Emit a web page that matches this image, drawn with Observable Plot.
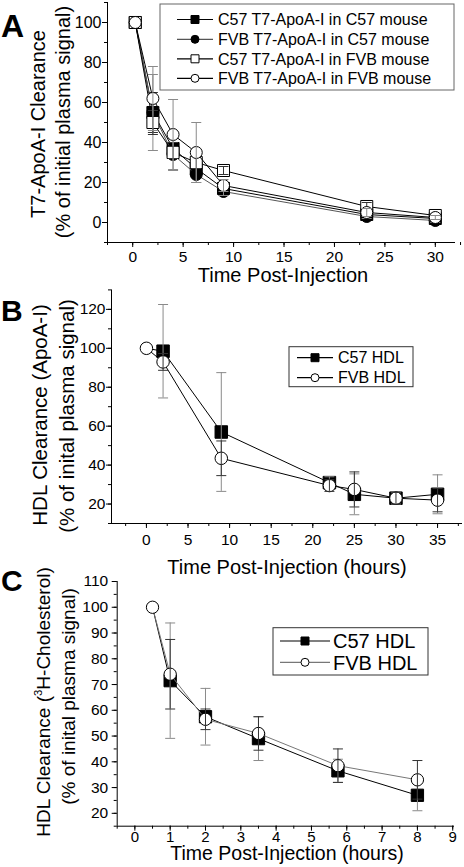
<!DOCTYPE html>
<html><head><meta charset="utf-8">
<script src="https://cdn.jsdelivr.net/npm/d3@7"></script>
<script src="https://cdn.jsdelivr.net/npm/@observablehq/plot@0.6"></script>
<style>
body{margin:0;background:#fff;}
#wrap{position:relative;width:464px;height:867px;overflow:hidden;background:#fff;}
#wrap svg{position:absolute;left:0;overflow:visible;background:none;}
</style></head><body><div id="wrap"></div>
<script>
// ---------- Panel A data ----------
const timeA = [0.25, 2, 4, 6.3, 9, 23.2, 30];
const namesA = ["C57 T7-ApoA-I in C57 mouse", "FVB T7-ApoA-I in C57 mouse", "C57 T7-ApoA-I in FVB mouse", "FVB T7-ApoA-I in FVB mouse"];
const c57InC57 = [100, 55, 37, 27, 17, 4, 2];
const c57InC57Err = [0, 10, 3, 3, 2, 1, 1];
const fvbInC57 = [100, 55, 34, 24, 15.5, 3, 1];
const fvbInC57Err = [0, 19, 8, 4, 2, 1, 1];
const c57InFvb = [100, 50, 35, 30, 26, 8, 3.5];
const c57InFvbErr = [0, 6, 3, 3, 2, 2, 1];
const fvbInFvb = [100, 62, 44, 35, 18.5, 5, 2.5];
const fvbInFvbErr = [0, 16, 17.5, 15, 3, 2, 1];
const xTicksA = [0, 5, 10, 15, 20, 25, 30];
const yTicksA = [0, 20, 40, 60, 80, 100];

// ---------- Panel B data ----------
const timeB = [0, 2, 9, 22, 25, 30, 35];
const namesB = ["C57 HDL", "FVB HDL"];
const c57HdlB = [100, 98.5, 57, 31, 25, 23, 25];
const c57HdlBErr = [0, 24, 30.5, 3, 10.5, 3, 10];
const fvbHdlB = [100, 93, 43.5, 29.5, 27.5, 23, 22];
const fvbHdlBErr = [0, 4.3, 8.9, 3, 9, 3, 6];
const xTicksB = [0, 5, 10, 15, 20, 25, 30, 35];
const yTicksB = [20, 40, 60, 80, 100, 120];

// ---------- Panel C data ----------
const timeC = [0.5, 1, 2, 3.5, 5.75, 8];
const namesC = ["C57 HDL", "FVB HDL"];
const c57HdlC = [100, 71.5, 57.5, 49, 36.5, 27];
const c57HdlCErr = [0, 22.4, 11, 8.5, 4.5, 6];
const fvbHdlC = [100, 74, 56.5, 51, 38.5, 33];
const fvbHdlCErr = [0, 13.5, 4, 6.5, 6.5, 7.5];
const xTicksC = [0, 1, 2, 3, 4, 5, 6, 7, 8, 9];
const yTicksC = [20, 30, 40, 50, 60, 70, 80, 90, 100, 110];

// ---------- rendering ----------
const FONT = '"Liberation Sans", Arial, Helvetica, sans-serif';
const GRAY = "#8a8a8a";
const DARK = "#333";
const capSymbol = { draw(ctx) { ctx.moveTo(-5, 0); ctx.lineTo(5, 0); } };
const range = (a, b, s) => d3.range(a, b + s / 2, s);

function rows(t, v, e) { return t.map((x, i) => ({ t: x, v: v[i], e: e[i], i })); }

function makePanel(cfg) {
  const marks = [
    Plot.ruleX([cfg.xDomain[0]], { stroke: "#000" }),
    Plot.ruleY([cfg.yDomain[0]], { stroke: "#000" }),
    Plot.axisX({ ticks: cfg.xMinor, tickSize: 3, tickFormat: () => "", label: null }),
    Plot.axisY({ ticks: cfg.yMinor, tickSize: 3, tickFormat: () => "", label: null }),
    Plot.axisX({ ticks: cfg.xTicks, tickSize: 5, tickPadding: cfg.padX, label: null, fontSize: cfg.tickFontX || cfg.tickFont }),
    Plot.axisY({ ticks: cfg.yTicks, tickSize: 5, tickPadding: cfg.padY, label: null, fontSize: cfg.tickFont })
  ];
  for (const s of cfg.series) {
    const data = rows(s.t, s.v, s.e);
    const err = data.filter(d => d.e > 0);
    const shown = data.filter(d => d.i >= (s.markerFrom || 0)); // first marker hidden under the other series' circle
    const r = s.symbol === "square" ? cfg.size / 1.772 : cfg.size / 2;
    marks.push(Plot.line(data, { x: "t", y: "v", stroke: s.line, strokeWidth: 1 }));
    marks.push(Plot.dot(shown, { x: "t", y: "v", symbol: s.symbol, r, fill: s.fill, stroke: "#000", strokeWidth: 1 }));
    marks.push(Plot.ruleX(err, { x: "t", y1: d => d.v - d.e, y2: d => d.v + d.e, stroke: s.err, strokeWidth: 1 }));
    marks.push(Plot.dot(err, { x: "t", y: d => d.v + d.e, symbol: capSymbol, stroke: s.err, fill: "none", strokeWidth: 1 }));
    marks.push(Plot.dot(err, { x: "t", y: d => d.v - d.e, symbol: capSymbol, stroke: s.err, fill: "none", strokeWidth: 1 }));
  }
  const svg = Plot.plot({
    width: 464, height: cfg.height,
    marginLeft: cfg.ml, marginRight: cfg.mr, marginTop: cfg.mt, marginBottom: cfg.mb,
    x: { domain: cfg.xDomain }, y: { domain: cfg.yDomain },
    style: { fontFamily: FONT, fontSize: cfg.tickFont + "px", color: "#000", background: "none", overflow: "visible" },
    marks
  });
  svg.style.top = cfg.top + "px";
  const g = d3.select(svg).append("g").attr("font-family", FONT).attr("fill", "#000").attr("text-anchor", "start");
  // panel letter
  g.append("text").attr("x", 1).attr("y", cfg.letterY).attr("text-anchor", "start")
    .attr("font-size", cfg.letterSize).attr("font-weight", "bold").text(cfg.letter);
  // y labels (two lines)
  cfg.yLabels.forEach(l => {
    const t = g.append("text").attr("transform", `translate(${l.x},${l.y}) rotate(-90)`)
      .attr("text-anchor", "middle").attr("dy", "0.35em").attr("font-size", l.font);
    l.parts.forEach(p => {
      if (p.sup) t.append("tspan").attr("font-size", l.font * 0.6).attr("dy", "-0.75em").text(p.text);
      else t.append("tspan").attr("dy", p.after ? "0.45em" : null).text(p.text);
    });
  });
  // x label
  g.append("text").attr("x", cfg.xLabel.x).attr("y", cfg.xLabel.y).attr("text-anchor", "middle")
    .attr("font-size", cfg.xLabel.font || cfg.labelFont).text(cfg.xLabel.text);
  // legend
  const L = cfg.legend;
  const lg = g.append("g");
  lg.append("rect").attr("x", L.x).attr("y", L.y).attr("width", L.w).attr("height", L.h)
    .attr("fill", "#fff").attr("stroke", L.border).attr("stroke-width", 1);
  cfg.series.forEach((s, i) => {
    const y = L.rowY[i];
    lg.append("line").attr("x1", L.lx1).attr("x2", L.lx2).attr("y1", y).attr("y2", y).attr("stroke", s.line).attr("stroke-width", 1.2);
    const type = s.symbol === "square" ? d3.symbolSquare : d3.symbolCircle;
    const size = s.symbol === "square" ? L.mark * L.mark : Math.PI * (L.mark / 2) ** 2;
    lg.append("path").attr("d", d3.symbol(type, size)()).attr("transform", `translate(${L.mx},${y})`)
      .attr("fill", s.fill).attr("stroke", "#000").attr("stroke-width", 1);
    lg.append("text").attr("x", L.tx).attr("y", y).attr("dy", "0.36em").attr("text-anchor", "start")
      .attr("font-size", L.font).text(s.name);
  });
  document.getElementById("wrap").appendChild(svg);
}

// Panel A
makePanel({
  top: 0, height: 290, ml: 107, mr: 9, mt: 2, mb: 48,
  xDomain: [-2.5, 32], yDomain: [-10, 110],
  xTicks: xTicksA, xMinor: range(-2.5, 32, 2.5), yTicks: yTicksA, yMinor: range(-10, 110, 10),
  padX: 3, padY: 1, tickFont: 16, tickFontX: 15.5, labelFont: 20, size: 12,
  letter: "A", letterY: 37, letterSize: 32,
  yLabels: [{ x: 38, y: 124, font: 20, parts: [{ text: "T7-ApoA-I Clearance" }] },
            { x: 63, y: 122, font: 20, parts: [{ text: "(% of initial plasma signal)" }] }],
  xLabel: { x: 283, y: 282, text: "Time Post-Injection" },
  series: [
    { name: namesA[0], t: timeA, v: c57InC57, e: c57InC57Err, symbol: "square", fill: "#000", line: "#000", err: DARK },
    { name: namesA[1], t: timeA, v: fvbInC57, e: fvbInC57Err, symbol: "circle", fill: "#000", line: "#555", err: GRAY },
    { name: namesA[2], t: timeA, v: c57InFvb, e: c57InFvbErr, symbol: "square", fill: "#fff", line: "#000", err: DARK },
    { name: namesA[3], t: timeA, v: fvbInFvb, e: fvbInFvbErr, symbol: "circle", fill: "#fff", line: "#000", err: GRAY }
  ],
  legend: { x: 160, y: 4, w: 294, h: 86, border: "#666", rowY: [19.5, 39.3, 58.8, 78.3], lx1: 177, lx2: 213, mx: 195, mark: 8, tx: 218, font: 16 }
});

// Panel B
makePanel({
  top: 285, height: 290, ml: 111, mr: 2, mt: 4.4, mb: 52,
  xDomain: [-4.2, 38], yDomain: [10, 130],
  xTicks: xTicksB, xMinor: range(-2.5, 37.5, 2.5), yTicks: yTicksB, yMinor: range(10, 130, 10),
  padX: 5, padY: 1, tickFont: 15.5, labelFont: 20, size: 12.5,
  letter: "B", letterY: 36, letterSize: 30,
  yLabels: [{ x: 40, y: 130, font: 20.5, parts: [{ text: "HDL Clearance (ApoA-I)" }] },
            { x: 67, y: 131, font: 20.5, parts: [{ text: "(% of inital plasma signal)" }] }],
  xLabel: { x: 287, y: 289, text: "Time Post-Injection (hours)" },
  series: [
    { name: namesB[0], t: timeB, v: c57HdlB, e: c57HdlBErr, symbol: "square", fill: "#000", line: "#000", err: GRAY, markerFrom: 1 },
    { name: namesB[1], t: timeB, v: fvbHdlB, e: fvbHdlBErr, symbol: "circle", fill: "#fff", line: "#000", err: DARK }
  ],
  legend: { x: 289, y: 61.7, w: 124, h: 40, border: "#333", rowY: [72.7, 92.7], lx1: 297, lx2: 333, mx: 315, mark: 8, tx: 338, font: 16 }
});

// Panel C
makePanel({
  top: 575, height: 292, ml: 116.7, mr: 10, mt: 6, mb: 41.3,
  xDomain: [-0.5, 9.05], yDomain: [15, 110],
  xTicks: xTicksC, xMinor: range(-0.5, 9, 0.5), yTicks: yTicksC, yMinor: range(15, 110, 5),
  padX: 0, padY: 4, tickFont: 15.5, tickFontX: 15, labelFont: 20, size: 12.3,
  letter: "C", letterY: 16, letterSize: 30,
  yLabels: [{ x: 43.5, y: 127, font: 19, parts: [{ text: "HDL Clearance (" }, { text: "3", sup: true }, { text: "H-Cholesterol)", after: true }] },
            { x: 68.5, y: 121.5, font: 19, parts: [{ text: "(% of inital plasma signal)" }] }],
  xLabel: { x: 287, y: 285, font: 19.5, text: "Time Post-Injection (hours)" },
  series: [
    { name: namesC[0], t: timeC, v: c57HdlC, e: c57HdlCErr, symbol: "square", fill: "#000", line: "#000", err: GRAY, markerFrom: 1 },
    { name: namesC[1], t: timeC, v: fvbHdlC, e: fvbHdlCErr, symbol: "circle", fill: "#fff", line: "#777", err: DARK }
  ],
  legend: { x: 273, y: 52.7, w: 155, h: 47.3, border: "#333", rowY: [66, 87.3], lx1: 280, lx2: 330, mx: 305, mark: 8, tx: 333, font: 20 }
});
</script></body></html>
